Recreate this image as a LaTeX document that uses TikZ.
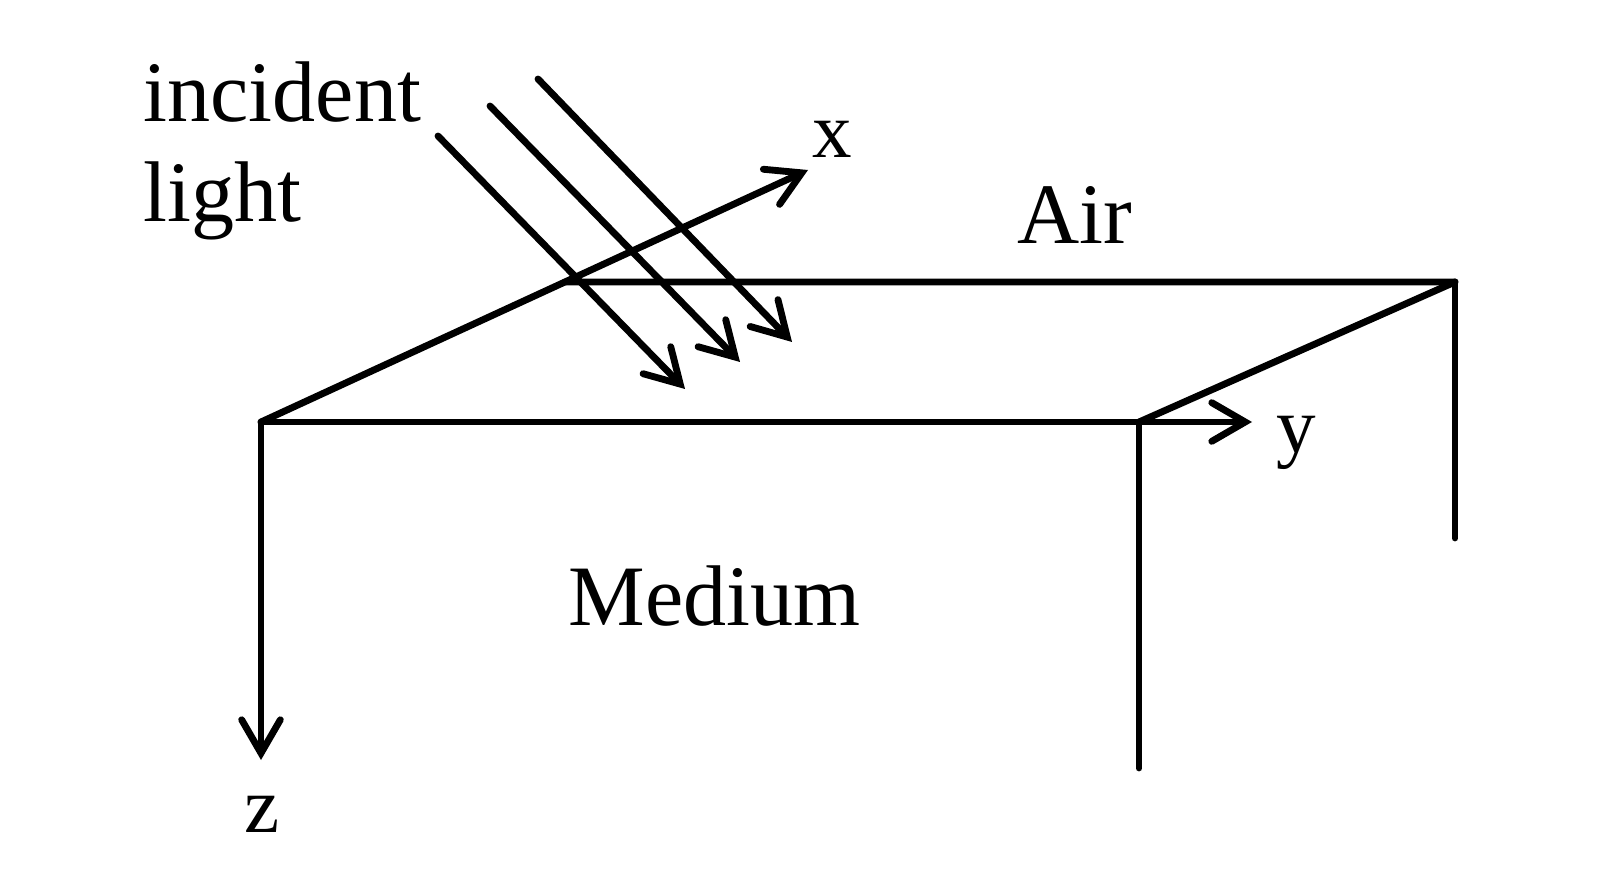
\documentclass[tikz,border=0pt]{standalone}
\usepackage{fontspec}
\setmainfont{Liberation Serif}
\usetikzlibrary{arrows.meta}
\begin{document}
\begin{tikzpicture}[
  edge/.style={line width=1.95pt, line cap=round, line join=round},
  arr/.style={edge, -{Straight Barb[length=9.5pt,width=11pt,line cap=round,line join=miter]}},
  lbl/.style={inner sep=0pt, font=\fontsize{24.5}{28.5}\selectfont},
  axlbl/.style={inner sep=0pt, font=\fontsize{22.5}{26}\selectfont},
]
\useasboundingbox (0,0) rectangle (16,-8.87);
% corners
\coordinate (O) at (2.61,-4.22);
\coordinate (A) at (11.39,-4.22);
\coordinate (yT) at (12.52,-4.22);
\coordinate (B) at (14.55,-2.82);
\coordinate (Bref) at (0,-2.82);
\coordinate (xT) at (8.08,-1.70);
\coordinate (Bl) at (intersection of O--xT and Bref--B);
\coordinate (zT) at (2.61,-7.60);
\coordinate (Ab) at (11.39,-7.68);
\coordinate (Bb) at (14.55,-5.38);
% rays
\coordinate (R1s) at (4.38,-1.36);
\coordinate (R1e) at (6.85,-3.89);
\coordinate (R2s) at (4.90,-1.06);
\coordinate (R2e) at (7.40,-3.62);
\coordinate (R3s) at (5.38,-0.79);
\coordinate (R3e) at (7.92,-3.42);

% box edges
\draw[edge] (O) -- (A);
\draw[arr] (A) -- (yT);
\draw[edge] (Bl) -- (B);
\draw[edge] (A) -- (B);
\draw[edge] (A) -- (Ab);
\draw[edge] (B) -- (Bb);
% axes
\draw[arr] (O) -- (xT);
\draw[arr] (O) -- (zT);
% incident rays
\draw[arr] (R1s) -- (R1e);
\draw[arr] (R2s) -- (R2e);
\draw[arr] (R3s) -- (R3e);

% labels
\node[axlbl, anchor=base] (xl) at (8.32,-1.58) {x};
\node[axlbl, anchor=base] (yl) at (12.96,-4.53) {y};
\node[axlbl, anchor=base] (zl) at (2.62,-8.32) {z};
\node[lbl, anchor=base] (air) at (10.75,-2.44) {Air};
\node[lbl, anchor=base] (med) at (7.145,-6.25) {Medium};
\node[lbl, anchor=base west, align=left] (inc) at (1.43,-2.22) {incident\\light};
\end{tikzpicture}
\end{document}
